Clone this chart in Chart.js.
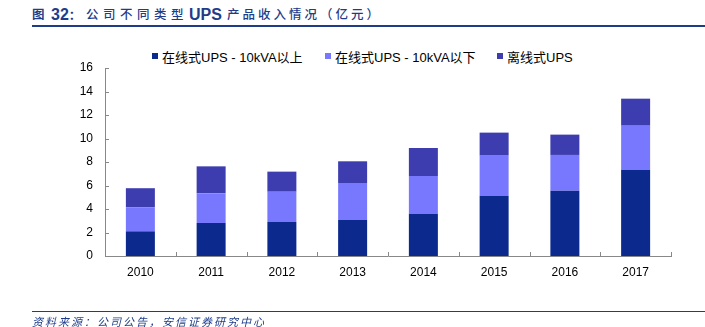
<!DOCTYPE html>
<html>
<head>
<meta charset="utf-8">
<script src="https://cdn.jsdelivr.net/npm/chart.js@4.4.0/dist/chart.umd.min.js"></script>
<style>
    body { margin: 0; background: #fff; font-family: "Liberation Sans", "Noto Sans CJK SC", sans-serif; }
    #wrap { position: relative; width: 705px; height: 327px; overflow: hidden; }
    .t { position: absolute; top: 6px; font-size: 12.5px; color: #1f3c88; white-space: nowrap; line-height: 18px; }
    .cn { font-weight: 500; }
    .en { font-weight: bold; font-size: 16px; }
    #title-line { position: absolute; left: 32px; top: 25px; width: 673px; height: 2px; background: #1f3c88; }
    #foot-line { position: absolute; left: 32px; top: 311px; width: 673px; height: 1px; background: #1f3c88; }
    #foot { position: absolute; left: 32px; top: 313px; font-size: 11px; font-style: italic; color: #1f3c88; white-space: nowrap; letter-spacing: 2px; }
    #legend { position: absolute; top: 47px; left: 0; font-size: 13px; color: #000; white-space: nowrap; }
    .item { position: absolute; top: 0; }
    .box { position: absolute; top: 6px; left: 0; width: 6px; height: 6px; }
    .lbl { position: absolute; left: 10px; top: 0; }
    canvas { position: absolute; left: 0; top: 0; }
</style>
</head>
<body>
<div id="wrap">
    <div class="t cn" style="left:32px;font-weight:bold">图</div>
    <div class="t en" style="left:51px">32<span style="font-size:12.5px">：</span></div>
    <div class="t cn" style="left:86px;letter-spacing:4.5px">公司不同类型</div>
    <div class="t en" style="left:189px">UPS</div>
    <div class="t cn" style="left:227px;letter-spacing:3px">产品收入情况（亿元）</div>
    <div id="title-line"></div>
    <div id="legend"></div>
    <canvas id="chart" width="705" height="327"></canvas>
    <div id="foot-line"></div>
    <div id="foot">资料来源：公司公告，安信证券研究中心</div>
</div>
<script>
// Data (亿元)
const years = ["2010", "2011", "2012", "2013", "2014", "2015", "2016", "2017"];
const onlineAbove10k = [2.10, 2.81, 2.89, 3.06, 3.60, 5.13, 5.56, 7.35];
const onlineBelow10k = [2.05, 2.52, 2.58, 3.15, 3.21, 3.41, 3.04, 3.74];
const offlineUps = [1.62, 2.30, 1.71, 1.85, 2.38, 1.96, 1.73, 2.30];
const yTicks = [0, 2, 4, 6, 8, 10, 12, 14, 16];

const seriesNames = ["在线式UPS - 10kVA以上", "在线式UPS - 10kVA以下", "离线式UPS"];
const seriesColors = ["#0c2a8e", "#7878ff", "#3e3db0"];
const legendX = [152, 325, 497];

// HTML legend
const legend = document.getElementById("legend");
seriesNames.forEach((name, i) => {
    legend.innerHTML += `<div class="item" style="left:${legendX[i]}px"><div class="box" style="background:${seriesColors[i]}"></div><div class="lbl">${name}</div></div>`;
});

// Inward tick marks like the source chart
const innerTicks = {
    id: "innerTicks",
    afterDraw(chart) {
        const { ctx, chartArea, scales } = chart;
        ctx.save();
        ctx.strokeStyle = "#888";
        ctx.lineWidth = 1;
        ctx.beginPath();
        scales.y.ticks.forEach((t, i) => {
            const y = Math.round(scales.y.getPixelForTick(i)) + 0.5;
            ctx.moveTo(chartArea.left, y);
            ctx.lineTo(chartArea.left + 4, y);
        });
        for (let i = 0; i <= years.length; i++) {
            const x = Math.round(chartArea.left + (chartArea.right - chartArea.left) * i / years.length) + 0.5;
            ctx.moveTo(x, chartArea.bottom);
            ctx.lineTo(x, chartArea.bottom - 4);
        }
        ctx.stroke();
        ctx.restore();
    }
};

const font = { family: '"Liberation Sans", "Noto Sans CJK SC", sans-serif', size: 12 };

new Chart(document.getElementById("chart"), {
    type: "bar",
    data: {
        labels: years,
        datasets: [
            { label: seriesNames[0], data: onlineAbove10k, backgroundColor: seriesColors[0] },
            { label: seriesNames[1], data: onlineBelow10k, backgroundColor: seriesColors[1] },
            { label: seriesNames[2], data: offlineUps, backgroundColor: seriesColors[2] }
        ]
    },
    options: {
        responsive: false,
        animation: false,
        datasets: { bar: { categoryPercentage: 0.41, barPercentage: 1.0 } },
        layout: { padding: { top: 68, right: 34, bottom: 0, left: 0 } },
        plugins: { legend: { display: false }, tooltip: { enabled: false } },
        scales: {
            x: {
                stacked: true,
                grid: { display: false, drawTicks: false },
                border: { display: true, color: "#888" },
                ticks: { color: "#000", font, padding: 9 },
                afterFit: s => { s.height = 71; }
            },
            y: {
                stacked: true,
                min: 0,
                max: 16,
                afterBuildTicks: s => { s.ticks = yTicks.map(v => ({ value: v })); },
                grid: { display: false, drawTicks: false },
                border: { display: true, color: "#888" },
                ticks: { color: "#000", font, padding: 12 },
                afterFit: s => { s.width = 105; }
            }
        }
    },
    plugins: [innerTicks]
});
</script>
</body>
</html>
